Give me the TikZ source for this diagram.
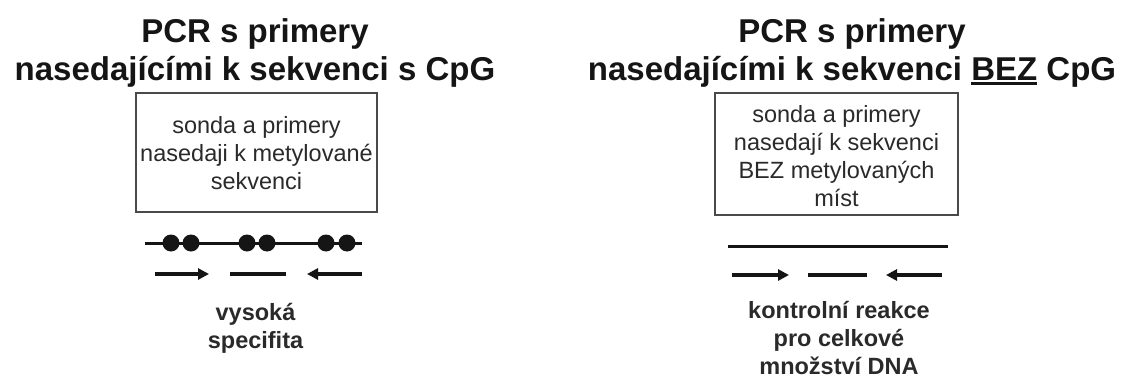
\documentclass[tikz,border=0pt]{standalone}
\usepackage{fontspec}
\setmainfont{Liberation Sans}
\usetikzlibrary{arrows.meta}
\definecolor{ink}{HTML}{151515}
\definecolor{boxink}{HTML}{2A2A2A}
\definecolor{frame}{HTML}{4A4A4A}
\newcommand\myul[1]{\setbox0\hbox{#1}\rlap{\rule[-4.5pt]{\wd0}{2.6pt}}\box0\relax}
\tikzset{
  titletext/.style={font=\fontsize{33}{38}\selectfont\bfseries, text=ink, align=center, inner sep=0pt, anchor=base},
  probebox/.style={draw=frame, line width=1.8pt, inner sep=0pt},
  boxtext/.style={font=\fontsize{23.5}{27.8}\selectfont, text=boxink, align=center, inner sep=0pt, anchor=base},
  notetext/.style={font=\fontsize{23.5}{27.8}\selectfont\bfseries, text=boxink, align=center, inner sep=0pt, anchor=base},
  dna/.style={line width=3pt, ink},
  primer/.style={line width=3.6pt, ink},
  primerarrow/.style={primer, -{Triangle[length=11pt,width=11pt]}},
  cpg/.style={circle, fill=ink, minimum size=17pt, inner sep=0pt},
}
\begin{document}
\begin{tikzpicture}[x=1pt,y=-1pt]
\useasboundingbox (0,0) rectangle (1122,380);
\fill[white] (0,0) rectangle (1122,380);

% ---------- left panel ----------
\node[titletext] (titleL) at (255,80) {PCR s primery\\nasedajícími k sekvenci s CpG};
\node[probebox, minimum width=241pt, minimum height=119pt] (boxL) at (256.5,152.5) {};
\node[boxtext] (boxLtext) at (256.5,189) {sonda a primery\\nasedaji k metylované\\sekvenci};

\coordinate (dnaLa) at (145,243);
\coordinate (dnaLb) at (362,243);
\draw[dna] (dnaLa) -- (dnaLb);
\node[cpg] (cL1) at (171,243) {};
\node[cpg] (cL2) at (191,243) {};
\node[cpg] (cL3) at (247,243) {};
\node[cpg] (cL4) at (267,243) {};
\node[cpg] (cL5) at (326,243) {};
\node[cpg] (cL6) at (347,243) {};

\coordinate (pLfa) at (155,274);
\coordinate (pLfb) at (209,274);
\coordinate (pLpa) at (230,274);
\coordinate (pLpb) at (286,274);
\coordinate (pLra) at (362,274);
\coordinate (pLrb) at (307,274);
\draw[primerarrow] (pLfa) -- (pLfb);
\draw[primer] (pLpa) -- (pLpb);
\draw[primerarrow] (pLra) -- (pLrb);

\node[notetext] (noteL) at (255.5,348) {vysoká\\specifita};

% ---------- right panel ----------
\node[titletext] (titleR) at (852,80) {PCR s primery\\nasedajícími k sekvenci \myul{BEZ} CpG};
\node[probebox, minimum width=243pt, minimum height=122pt] (boxR) at (836.5,154) {};
\node[boxtext] (boxRtext) at (836.5,206) {sonda a primery\\nasedají k sekvenci\\BEZ metylovaných\\míst};

\coordinate (dnaRa) at (728,246);
\coordinate (dnaRb) at (948,246);
\draw[dna] (dnaRa) -- (dnaRb);

\coordinate (pRfa) at (732,275);
\coordinate (pRfb) at (789,275);
\coordinate (pRpa) at (808,275);
\coordinate (pRpb) at (867,275);
\coordinate (pRra) at (942,275);
\coordinate (pRrb) at (886,275);
\draw[primerarrow] (pRfa) -- (pRfb);
\draw[primer] (pRpa) -- (pRpb);
\draw[primerarrow] (pRra) -- (pRrb);

\node[notetext] (noteR) at (839,374) {kontrolní reakce\\pro celkové\\množství DNA};
\end{tikzpicture}
\end{document}
